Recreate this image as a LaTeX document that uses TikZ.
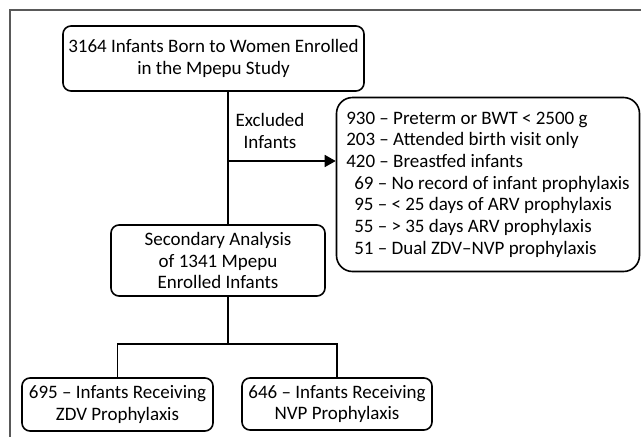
\documentclass[tikz,border=0pt]{standalone}
\usepackage{fontspec}
\setmainfont{Carlito}
\usetikzlibrary{calc,arrows.meta}

\tikzset{
  box/.style={draw, line width=1.6pt, rounded corners=8pt, align=center, inner sep=0pt,
    font=\fontsize{19}{21.7}\selectfont},
  link/.style={line width=1.6pt},
}

\begin{document}
\begin{tikzpicture}[x=1pt, y=-1pt]
		%%%%% START %%%%%
		\useasboundingbox (0, 0) rectangle (641, 437);
		\draw[black!65, line width=1.4pt] (10, 437) -- (10, 10) -- (641, 10);
		
		\node[box, minimum width=301pt, minimum height=65pt] (born) at (213.5, 58.5)
			{3164 Infants Born to Women Enrolled\\in the Mpepu Study};
		
		\node[box, rounded corners=16pt, align=left, minimum width=303pt, minimum height=174pt] (excl) at (488, 184.5)
			{930 -- Preterm or BWT < 2500 g\\
			 203 -- Attended birth visit only\\
			 420 -- Breastfed infants\\
			 \hspace*{8pt}69 -- No record of infant prophylaxis\\
			 \hspace*{8pt}95 -- < 25 days of ARV prophylaxis\\
			 \hspace*{8pt}55 -- > 35 days ARV prophylaxis\\
			 \hspace*{8pt}51 -- Dual ZDV--NVP prophylaxis};
		
		\node[box, minimum width=214pt, minimum height=71pt] (second) at (218, 260.5)
			{Secondary Analysis\\of 1341 Mpepu\\Enrolled Infants};
		
		\node[box, minimum width=191pt, minimum height=53pt] (zdv) at (117.5, 404.5)
			{695 -- Infants Receiving\\ZDV Prophylaxis};
		\node[box, minimum width=190pt, minimum height=52pt] (nvp) at (337, 404)
			{646 -- Infants Receiving\\NVP Prophylaxis};
		
		\node[align=center, inner sep=0pt, font=\fontsize{19}{21.7}\selectfont] (exlabel) at (270, 131)
			{Excluded\\Infants};
		
		\coordinate (branch) at (228, 161);
		\coordinate (split) at (228, 344);
		
		\draw[link] (born.south -| branch) -- (second.north -| branch);
		\draw[link, -{Triangle[length=11pt, width=12pt]}] (branch) -- (branch -| excl.west);
		\draw[link] (second.south -| split) -- (split);
		\draw[link] (zdv.north) |- (split) -| (nvp.north);
		%%%%% END %%%%%
\end{tikzpicture}
\end{document}
